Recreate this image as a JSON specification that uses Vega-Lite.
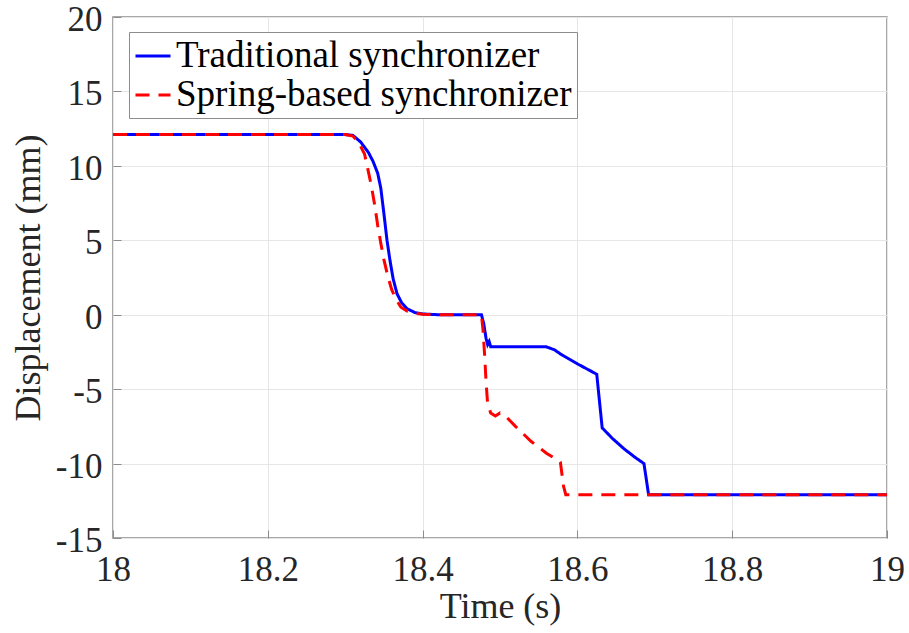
{
  "$schema": "https://vega.github.io/schema/vega-lite/v6.json",
  "width": 774,
  "height": 521,
  "autosize": "none",
  "padding": {"left": 113, "top": 17, "right": 22, "bottom": 95},
  "background": "white",
  "config": {
    "font": "Liberation Serif",
    "view": {"stroke": "#8c8c8c", "strokeWidth": 1.5},
    "axis": {"labelFont": "Liberation Serif", "titleFont": "Liberation Serif"}
  },
  "data": {"values": [
    {"t": 18.0, "d": 12.1, "s": "Traditional synchronizer"},
    {"t": 18.30, "d": 12.1, "s": "Traditional synchronizer"},
    {"t": 18.31, "d": 12.05, "s": "Traditional synchronizer"},
    {"t": 18.32, "d": 11.6, "s": "Traditional synchronizer"},
    {"t": 18.33, "d": 10.9, "s": "Traditional synchronizer"},
    {"t": 18.336, "d": 10.3, "s": "Traditional synchronizer"},
    {"t": 18.342, "d": 9.5, "s": "Traditional synchronizer"},
    {"t": 18.346, "d": 8.5, "s": "Traditional synchronizer"},
    {"t": 18.350, "d": 6.8, "s": "Traditional synchronizer"},
    {"t": 18.354, "d": 5.0, "s": "Traditional synchronizer"},
    {"t": 18.358, "d": 3.6, "s": "Traditional synchronizer"},
    {"t": 18.362, "d": 2.4, "s": "Traditional synchronizer"},
    {"t": 18.367, "d": 1.4, "s": "Traditional synchronizer"},
    {"t": 18.373, "d": 0.8, "s": "Traditional synchronizer"},
    {"t": 18.38, "d": 0.4, "s": "Traditional synchronizer"},
    {"t": 18.39, "d": 0.15, "s": "Traditional synchronizer"},
    {"t": 18.40, "d": 0.05, "s": "Traditional synchronizer"},
    {"t": 18.42, "d": 0.0, "s": "Traditional synchronizer"},
    {"t": 18.476, "d": 0.0, "s": "Traditional synchronizer"},
    {"t": 18.479, "d": -0.6, "s": "Traditional synchronizer"},
    {"t": 18.482, "d": -1.6, "s": "Traditional synchronizer"},
    {"t": 18.484, "d": -2.0, "s": "Traditional synchronizer"},
    {"t": 18.486, "d": -1.8, "s": "Traditional synchronizer"},
    {"t": 18.488, "d": -2.15, "s": "Traditional synchronizer"},
    {"t": 18.50, "d": -2.16, "s": "Traditional synchronizer"},
    {"t": 18.56, "d": -2.16, "s": "Traditional synchronizer"},
    {"t": 18.57, "d": -2.35, "s": "Traditional synchronizer"},
    {"t": 18.58, "d": -2.7, "s": "Traditional synchronizer"},
    {"t": 18.60, "d": -3.3, "s": "Traditional synchronizer"},
    {"t": 18.625, "d": -4.0, "s": "Traditional synchronizer"},
    {"t": 18.632, "d": -7.6, "s": "Traditional synchronizer"},
    {"t": 18.645, "d": -8.3, "s": "Traditional synchronizer"},
    {"t": 18.66, "d": -9.0, "s": "Traditional synchronizer"},
    {"t": 18.675, "d": -9.6, "s": "Traditional synchronizer"},
    {"t": 18.686, "d": -10.0, "s": "Traditional synchronizer"},
    {"t": 18.692, "d": -12.1, "s": "Traditional synchronizer"},
    {"t": 19.0, "d": -12.1, "s": "Traditional synchronizer"},
    {"t": 18.0, "d": 12.1, "s": "Spring-based synchronizer"},
    {"t": 18.30, "d": 12.1, "s": "Spring-based synchronizer"},
    {"t": 18.31, "d": 12.0, "s": "Spring-based synchronizer"},
    {"t": 18.318, "d": 11.5, "s": "Spring-based synchronizer"},
    {"t": 18.325, "d": 10.8, "s": "Spring-based synchronizer"},
    {"t": 18.330, "d": 9.6, "s": "Spring-based synchronizer"},
    {"t": 18.334, "d": 8.6, "s": "Spring-based synchronizer"},
    {"t": 18.338, "d": 7.4, "s": "Spring-based synchronizer"},
    {"t": 18.342, "d": 6.0, "s": "Spring-based synchronizer"},
    {"t": 18.346, "d": 4.8, "s": "Spring-based synchronizer"},
    {"t": 18.350, "d": 3.7, "s": "Spring-based synchronizer"},
    {"t": 18.355, "d": 2.6, "s": "Spring-based synchronizer"},
    {"t": 18.36, "d": 1.7, "s": "Spring-based synchronizer"},
    {"t": 18.365, "d": 1.1, "s": "Spring-based synchronizer"},
    {"t": 18.372, "d": 0.5, "s": "Spring-based synchronizer"},
    {"t": 18.38, "d": 0.25, "s": "Spring-based synchronizer"},
    {"t": 18.39, "d": 0.1, "s": "Spring-based synchronizer"},
    {"t": 18.40, "d": 0.03, "s": "Spring-based synchronizer"},
    {"t": 18.42, "d": 0.0, "s": "Spring-based synchronizer"},
    {"t": 18.476, "d": 0.0, "s": "Spring-based synchronizer"},
    {"t": 18.478, "d": -1.0, "s": "Spring-based synchronizer"},
    {"t": 18.480, "d": -2.6, "s": "Spring-based synchronizer"},
    {"t": 18.482, "d": -4.5, "s": "Spring-based synchronizer"},
    {"t": 18.484, "d": -6.0, "s": "Spring-based synchronizer"},
    {"t": 18.488, "d": -6.6, "s": "Spring-based synchronizer"},
    {"t": 18.494, "d": -6.8, "s": "Spring-based synchronizer"},
    {"t": 18.50, "d": -6.6, "s": "Spring-based synchronizer"},
    {"t": 18.505, "d": -6.7, "s": "Spring-based synchronizer"},
    {"t": 18.52, "d": -7.5, "s": "Spring-based synchronizer"},
    {"t": 18.54, "d": -8.5, "s": "Spring-based synchronizer"},
    {"t": 18.56, "d": -9.3, "s": "Spring-based synchronizer"},
    {"t": 18.578, "d": -9.9, "s": "Spring-based synchronizer"},
    {"t": 18.582, "d": -11.5, "s": "Spring-based synchronizer"},
    {"t": 18.585, "d": -12.1, "s": "Spring-based synchronizer"},
    {"t": 19.0, "d": -12.1, "s": "Spring-based synchronizer"}
  ]},
  "mark": {"type": "line", "strokeWidth": 3, "clip": true},
  "encoding": {
    "x": {
      "field": "t", "type": "quantitative",
      "scale": {"domain": [18, 19], "nice": false, "zero": false},
      "axis": {
        "title": "Time (s)", "values": [18, 18.2, 18.4, 18.6, 18.8, 19],
        "labelExpr": "datum.value + ''",
        "grid": true, "gridColor": "#e6e6e6", "gridWidth": 1,
        "domain": false, "ticks": true, "tickSize": -8, "tickColor": "#8c8c8c", "tickWidth": 1,
        "labelFont": "Liberation Serif", "labelFontSize": 35, "labelColor": "#262626",
        "labelPadding": 22, "labelFlush": false,
        "titleFont": "Liberation Serif", "titleFontSize": 36, "titleFontWeight": "normal",
        "titleColor": "#262626", "titlePadding": 2
      }
    },
    "y": {
      "field": "d", "type": "quantitative",
      "scale": {"domain": [-15, 20], "nice": false, "zero": false},
      "axis": {
        "title": "Displacement (mm)", "values": [-15, -10, -5, 0, 5, 10, 15, 20],
        "labelExpr": "datum.value + ''",
        "grid": true, "gridColor": "#e6e6e6", "gridWidth": 1,
        "domain": false, "ticks": true, "tickSize": -8, "tickColor": "#8c8c8c", "tickWidth": 1,
        "labelFont": "Liberation Serif", "labelFontSize": 35, "labelColor": "#262626",
        "labelPadding": 19, "labelFlush": false, "labelOffset": 2.5,
        "titleFont": "Liberation Serif", "titleFontSize": 36, "titleFontWeight": "normal",
        "titleColor": "#262626", "titlePadding": 8
      }
    },
    "color": {
      "field": "s", "type": "nominal",
      "scale": {"domain": ["Traditional synchronizer", "Spring-based synchronizer"], "range": ["#0000ff", "#ff0000"]},
      "legend": {
        "title": null, "orient": "none", "legendX": 16, "legendY": 15,
        "symbolType": "stroke", "symbolSize": 1225, "symbolStrokeWidth": 3,
        "labelFont": "Liberation Serif", "labelFontSize": 37, "labelColor": "#000000",
        "labelOffset": 4, "rowPadding": 2, "padding": 5,
        "strokeColor": "#8c8c8c", "fillColor": "white", "labelLimit": 600
      }
    },
    "strokeDash": {
      "field": "s", "type": "nominal",
      "scale": {"domain": ["Traditional synchronizer", "Spring-based synchronizer"], "range": [[1, 0], [14, 9]]},
      "legend": {
        "title": null, "orient": "none", "legendX": 16, "legendY": 15,
        "symbolType": "stroke", "symbolSize": 1225, "symbolStrokeWidth": 3,
        "labelFont": "Liberation Serif", "labelFontSize": 37, "labelColor": "#000000",
        "labelOffset": 4, "rowPadding": 2, "padding": 5,
        "strokeColor": "#8c8c8c", "fillColor": "white", "labelLimit": 600
      }
    }
  }
}
